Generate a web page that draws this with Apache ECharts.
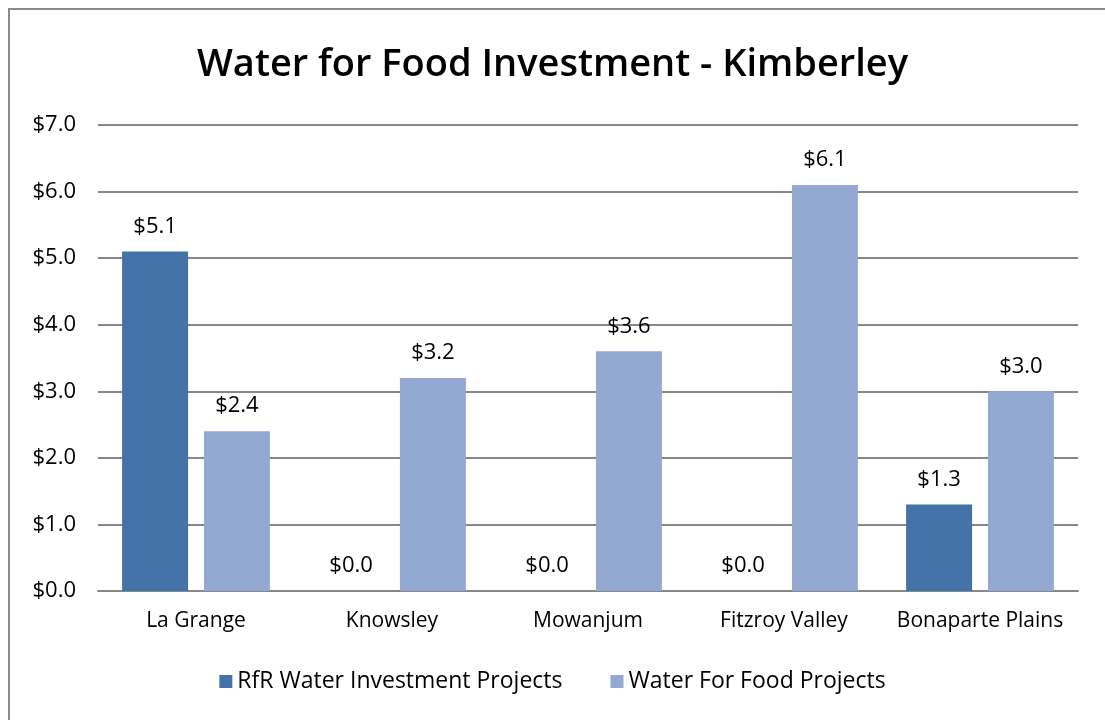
<!DOCTYPE html>
<html>
<head>
<meta charset="utf-8">
<script src="https://cdn.jsdelivr.net/npm/echarts@6/dist/echarts.min.js"></script>
<style>
  html, body { margin: 0; padding: 0; background: #fff; }
  #main { width: 1105px; height: 720px; }
</style>
</head>
<body>
<div id="main"></div>
<script>
var categories = ['La Grange', 'Knowsley', 'Mowanjum', 'Fitzroy Valley', 'Bonaparte Plains'];
var rfrValues = [5.1, 0, 0, 0, 1.3];
var wffValues = [2.4, 3.2, 3.6, 6.1, 3.0];
var seriesNames = ['RfR Water Investment Projects', 'Water For Food Projects'];

var font = 'Open Sans';
var myChart = echarts.init(document.getElementById('main'));

function money(v) { return '$' + Number(v).toFixed(1); }

var option = {
  backgroundColor: '#fff',
  animation: false,
  title: {
    text: 'Water for Food Investment - Kimberley',
    left: 'center',
    top: 41,
    textStyle: { fontFamily: font, fontSize: 38, fontWeight: 600, color: '#000' }
  },
  graphic: [{
    type: 'rect',
    shape: { x: 9, y: 9, width: 1120, height: 740 },
    style: { fill: 'none', stroke: '#8a8a8a', lineWidth: 2 },
    silent: true
  }],
  legend: {
    data: seriesNames,
    bottom: 22,
    left: 'center',
    itemWidth: 13,
    itemHeight: 13,
    itemGap: 48,
    icon: 'rect',
    textStyle: { fontFamily: font, fontSize: 23, color: '#000' }
  },
  grid: { left: 98, right: 27, top: 125, bottom: 129 },
  xAxis: {
    type: 'category',
    data: categories,
    axisLine: { lineStyle: { color: '#878787', width: 2 } },
    axisTick: { show: false },
    axisLabel: { fontFamily: font, fontSize: 21, color: '#000', margin: 20, interval: 0 }
  },
  yAxis: {
    type: 'value',
    min: 0,
    max: 7,
    interval: 1,
    axisLine: { show: false },
    axisTick: { show: false },
    axisLabel: { fontFamily: font, fontSize: 22, color: '#000', margin: 22, formatter: money },
    splitLine: { lineStyle: { color: '#878787', width: 2 } }
  },
  series: [
    {
      name: seriesNames[0],
      type: 'bar',
      data: rfrValues,
      barWidth: 66,
      barGap: '24%',
      itemStyle: { color: '#4573a7' },
      label: { show: true, position: 'top', distance: 14, fontFamily: font, fontSize: 22, color: '#000',
        formatter: function (p) { return money(p.value); } }
    },
    {
      name: seriesNames[1],
      type: 'bar',
      data: wffValues,
      barWidth: 66,
      itemStyle: { color: '#94a9d1' },
      label: { show: true, position: 'top', distance: 14, fontFamily: font, fontSize: 22, color: '#000',
        formatter: function (p) { return money(p.value); } }
    }
  ]
};

myChart.setOption(option);
</script>
</body>
</html>
